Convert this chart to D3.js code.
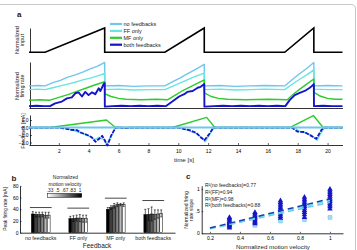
<!DOCTYPE html>
<html>
<head>
<meta charset="utf-8">
<script src="https://cdnjs.cloudflare.com/ajax/libs/d3/7.8.5/d3.min.js"></script>
<style>
body { margin: 0; background: #fff; }
svg { display: block; font-family: "Liberation Sans", Arial, sans-serif; }
</style>
</head>
<body>
<svg width="357" height="250"></svg>
<script>
// ---------- data ----------
// panel a: [time (s), value]
var inputTrace = [[0,0],[1.08,0],[5.07,1],[5.07,0],[9.1,0],[11.74,1],[11.74,0],[17.13,0],[19.08,1],[19.08,0],[21,0]];

var rateNoFb = [[0,0.48],[0.6,0.49],[1.08,0.48],[1.6,0.55],[2.1,0.6],[2.6,0.67],[3.1,0.72],[3.6,0.78],[4.1,0.85],[4.6,0.91],[5.07,0.99],
  [5.08,0.48],[6,0.49],[7,0.47],[8,0.48],[9.1,0.48],[9.6,0.57],[10.1,0.65],[10.6,0.74],[11.1,0.83],[11.74,0.95],
  [11.75,0.48],[12.8,0.49],[13.8,0.47],[14.8,0.48],[15.8,0.49],[17.13,0.48],[17.6,0.61],[18.1,0.74],[18.6,0.86],[19.08,0.99],
  [19.09,0.48],[20,0.49],[21,0.48]];
var rateFF = [[0,0.40],[0.6,0.41],[1.08,0.40],[1.6,0.44],[2.1,0.48],[2.6,0.52],[3.1,0.56],[3.6,0.61],[4.1,0.65],[4.6,0.70],[5.07,0.75],
  [5.08,0.40],[6,0.41],[7,0.39],[8,0.40],[9.1,0.40],[9.6,0.47],[10.1,0.54],[10.6,0.61],[11.1,0.68],[11.74,0.76],
  [11.75,0.40],[12.8,0.41],[13.8,0.39],[14.8,0.40],[15.8,0.41],[17.13,0.40],[17.6,0.51],[18.1,0.62],[18.6,0.72],[19.08,0.83],
  [19.09,0.41],[20,0.40],[21,0.40]];
var rateMF = [[0,0.17],[0.7,0.18],[1.4,0.17],[2.0,0.23],[2.6,0.29],[3.2,0.36],[3.8,0.43],[4.4,0.50],[5.07,0.57],
  [5.08,0.31],[5.5,0.25],[6.0,0.21],[6.5,0.19],[7.5,0.18],[8.5,0.19],[9.3,0.18],[9.8,0.28],[10.3,0.38],[10.8,0.46],[11.3,0.54],[11.74,0.61],
  [11.75,0.33],[12.2,0.25],[12.7,0.21],[13.3,0.19],[14.5,0.18],[16,0.19],[17.3,0.18],[17.7,0.30],[18.1,0.40],[18.6,0.52],[19.08,0.63],
  [19.09,0.34],[19.5,0.26],[20,0.21],[20.5,0.19],[21,0.19]];
var rateBoth = [[0,0.04],[0.5,0.05],[1.0,0.04],[1.41,0.04],[1.75,0.10],[2.2,0.14],[2.54,0.21],[2.87,0.23],[3.1,0.32],[3.32,0.34],[3.55,0.25],
  [3.77,0.35],[3.99,0.28],[4.22,0.34],[4.44,0.30],[4.67,0.43],[4.78,0.37],[5.0,0.52],[5.07,0.54],
  [5.08,0.03],[5.6,0.04],[6.2,0.05],[6.8,0.04],[7.4,0.05],[8.0,0.04],[8.6,0.05],[9.16,0.04],[9.6,0.14],[10.06,0.25],[10.4,0.30],
  [10.6,0.35],[10.96,0.37],[11.3,0.44],[11.5,0.46],[11.74,0.52],
  [11.75,0.03],[12.4,0.04],[13.0,0.05],[13.6,0.04],[14.2,0.05],[14.8,0.04],[15.4,0.05],[16.0,0.04],[16.6,0.05],[17.17,0.04],
  [17.46,0.17],[17.8,0.28],[18.13,0.33],[18.47,0.37],[18.81,0.44],[18.92,0.47],[19.08,0.52],
  [19.09,0.04],[19.7,0.05],[20.3,0.04],[21,0.04]];

var fbNoFb = [[0,0],[21,0]];
var fbFF = [[0,0],[2.3,0],[3.0,-0.4],[3.6,-0.8],[4.0,-1.1],[4.4,-1.6],[4.7,-1.3],[5.0,-1.6],[5.2,-2.3],[5.5,-1.2],[5.8,0],
  [10.2,0],[10.7,-0.4],[11.2,-0.8],[11.6,-1.4],[11.8,-1.9],[12.1,-0.9],[12.4,0],
  [17.8,0],[18.1,-0.5],[18.5,-0.7],[18.9,-1.0],[19.3,-1.7],[19.6,-0.6],[19.8,0],[21,0]];
var fbMF = [[0,0],[1.4,0],[5.19,1.0],[5.79,0],[9.6,0],[11.9,1.35],[12.45,0],[17.46,0],[19.05,1.6],[19.7,0],[21,0]];
var fbBoth = [[0,0],[2.0,0],[2.3,-0.1],[2.8,-0.3],[3.2,-0.35],[3.5,-0.7],[3.9,-1.0],[4.2,-1.3],[4.45,-1.9],[4.7,-1.5],[4.9,-1.1],
  [5.05,-1.6],[5.25,-2.4],[5.5,-1.1],[5.8,0],[6.2,0],[6.35,-0.08],[6.6,-0.05],[6.8,0],
  [10.0,0],[10.4,-0.2],[10.75,-0.35],[11.2,-0.7],[11.5,-1.3],[11.75,-1.7],[12.1,-0.8],[12.35,0],
  [17.6,0],[18.0,-0.55],[18.45,-0.6],[18.8,-1.0],[19.25,-1.5],[19.6,-0.3],[19.8,0],[21,0]];

var timeTicks = [2,4,6,8,10,12,14,16,18,20];
var fbTicks = [-2,-1,0,1];
var legendNames = ["no feedbacks","FF only","MF only","both feedbacks"];

// panel b
var groups = ["no feedbacks","FF only","MF only","both feedbacks"];
var peakNoFb = [32,31,31,31,30,30];
var peakFF = [24,24,25,25,24,24];
var peakMF = [40,43,46,48,48,48];
var peakBoth = [31,31,32,31,32,33];
var errNoFb = [4,4,4,4,5,5];
var errFF = [4,5,5,6,6,6];
var errMF = [3,3,4,3,2,3];
var errBoth = [9,10,12,8,7,6];
var sigLevels = [43,42,59,55];
var barTicks = [0,20,40,60,80];
var velocityLabels = [".33",".5",".67",".83","1"];

// panel c
var velocities = [0.33,0.5,0.67,0.83,1];
var slopeNoFb = [0.2,0.18,0.28,0.31,0.36];
var slopeFF = [0.24,0.36,0.52,0.64,0.74];
var slopeBoth = [
  [0.12,0.15,0.17,0.19,0.21,0.23,0.25,0.27,0.3,0.33,0.36],
  [0.22,0.25,0.28,0.31,0.34,0.37,0.4,0.44,0.47],
  [0.34,0.38,0.42,0.46,0.5,0.54,0.58,0.62,0.66,0.7,0.74],
  [0.36,0.42,0.47,0.52,0.57,0.61,0.65,0.69,0.73,0.77,0.82],
  [0.55,0.6,0.64,0.68,0.72,0.76,0.8,0.84,0.88,0.92,0.96,1.0]];
var fitX = [0.2,1.0];
var fitNoFb = [0.1,0.7];
var fitFF = [0.11,0.74];
var fitBoth = [0.12,0.78];
var r2Labels = ["R\u00b2(no feedbacks)=0.77","R\u00b2(FF)=0.94","R\u00b2(MF)=0.98","R\u00b2(both feedbacks)=0.88"];

// ---------- setup ----------
var svg = d3.select("svg"),
  width = +svg.attr("width"),
  height = +svg.attr("height");

var colNo = "#6fc6ee", colFF = "#66e6de", colMF = "#2ccc2c", colBoth = "#1414c8";
var seriesColors = [colNo, colFF, colMF, colBoth];
var barShades = ["#000000","#3d3d3d","#5e5e5e","#878787","#b9b9b9","#ffffff"];

// frame
svg.append("path")
  .attr("d", "M0,4.5 H351 Q355.5,4.5 355.5,9 V250")
  .attr("fill", "none").attr("stroke", "#c8c8c8").attr("stroke-width", 1);

function styleAxis(g, size) {
  g.attr("font-family", null).attr("font-size", size);
  g.select(".domain").attr("stroke", "#000").attr("stroke-width", 0.8);
  g.selectAll(".tick line").attr("stroke", "#000").attr("stroke-width", 0.6);
}

function label(txt, x, y, size, anchor, rot, weight) {
  svg.append("text")
    .attr("transform", "translate(" + x + "," + y + ")" + (rot ? " rotate(-90)" : ""))
    .attr("text-anchor", anchor || "middle")
    .attr("font-size", size)
    .attr("font-weight", weight || "normal")
    .attr("fill", "#222")
    .text(txt);
}

// ---------- panel a ----------
var x = d3.scaleLinear().domain([0, 21]).range([29, 342.5]);
var yIn = d3.scaleLinear().domain([0, 1]).range([52.3, 28]);
var yRate = d3.scaleLinear().domain([0, 1]).range([108, 62]);
var yFb = d3.scaleLinear().domain([-2.33, 1.67]).range([145, 115]);

function lineFor(ys) {
  return d3.line().x(function (d) { return x(d[0]); }).y(function (d) { return ys(d[1]); });
}

label("a", 17, 16.5, 8, "start", false, "bold");

// input
svg.append("g").attr("transform", "translate(30,0)")
  .call(d3.axisLeft(yIn).tickValues([]).tickSizeOuter(0)).call(styleAxis, 5);
svg.append("path").datum(inputTrace)
  .attr("d", lineFor(yIn)).attr("fill", "none").attr("stroke", "#000").attr("stroke-width", 1.6);
label("Normalized", 18.5, 40, 5.5, "middle", true);
label("input", 23.8, 40, 5.5, "middle", true);

// legend
var leg = svg.append("g");
legendNames.forEach(function (n, i) {
  var yy = 24 + i * 6.9;
  leg.append("line").attr("x1", 110).attr("x2", 122).attr("y1", yy).attr("y2", yy)
    .attr("stroke", seriesColors[i]).attr("stroke-width", 2.2);
  leg.append("text").attr("x", 123.5).attr("y", yy + 1.9).attr("font-size", 5.5).attr("fill", "#222").text(n);
});

// firing rate
svg.append("g").attr("transform", "translate(30,0)")
  .call(d3.axisLeft(yRate).tickValues([]).tickSizeOuter(0)).call(styleAxis, 5);
svg.append("g").attr("transform", "translate(0,108)")
  .call(d3.axisBottom(x).tickValues([]).tickSizeOuter(0)).call(styleAxis, 5);
[rateNoFb, rateFF, rateMF, rateBoth].forEach(function (s, i) {
  svg.append("path").datum(s)
    .attr("d", lineFor(yRate)).attr("fill", "none")
    .attr("stroke", seriesColors[i]).attr("stroke-width", i == 3 ? 1.9 : 1.4)
    .attr("stroke-linejoin", "round");
});
label("Normalized", 18.5, 86, 5.5, "middle", true);
label("firing rate", 24.2, 86, 5.5, "middle", true);

// feedback
svg.append("g").attr("transform", "translate(30,0)")
  .call(d3.axisLeft(yFb).tickValues(fbTicks).tickSize(-2).tickSizeOuter(0).tickPadding(1.5)).call(styleAxis, 5);
svg.append("g").attr("transform", "translate(0,145)")
  .call(d3.axisBottom(x).tickValues(timeTicks).tickSize(-2).tickSizeOuter(0).tickPadding(4)).call(styleAxis, 5);
[fbMF, fbFF, fbBoth, fbNoFb].forEach(function (s, i) {
  var c = [colMF, colFF, colBoth, colNo][i];
  svg.append("path").datum(s)
    .attr("d", lineFor(yFb)).attr("fill", "none")
    .attr("stroke", c).attr("stroke-width", i == 2 ? 1.8 : (i == 3 ? 2 : 1.4))
    .attr("stroke-dasharray", i == 2 ? "4,1.2" : null)
    .attr("stroke-linejoin", "round");
});
label("Feedback [mA]", 24.5, 131, 5.3, "middle", true);
label("time [s]", 184, 161.5, 6.2);

// ---------- panel b ----------
label("b", 11.5, 181, 8, "start", false, "bold");
var xb = d3.scaleBand().domain(groups).range([22, 172]).paddingInner(0.5).paddingOuter(0.25);
var xbi = d3.scaleBand().domain(d3.range(6)).range([0, xb.bandwidth()]).paddingInner(0.1);
var yb = d3.scaleLinear().domain([0, 80]).range([232.7, 185.9]);
var peaks = [peakNoFb, peakFF, peakMF, peakBoth];
var errs = [errNoFb, errFF, errMF, errBoth];

svg.append("g").attr("transform", "translate(20,0)")
  .call(d3.axisLeft(yb).tickValues(barTicks).tickSize(-1.5).tickSizeOuter(0).tickPadding(1.5)).call(styleAxis, 5);
svg.append("g").attr("transform", "translate(0,232.7)")
  .call(d3.axisBottom(d3.scaleLinear().domain([0, 1]).range([20, 175])).tickValues([]).tickSizeOuter(0)).call(styleAxis, 5);

groups.forEach(function (gname, gi) {
  var g = svg.append("g").attr("transform", "translate(" + xb(gname) + ",0)");
  g.selectAll("rect").data(peaks[gi]).enter().append("rect")
    .attr("x", function (d, i) { return xbi(i); })
    .attr("width", xbi.bandwidth())
    .attr("y", function (d) { return yb(d); })
    .attr("height", function (d) { return yb(0) - yb(d); })
    .attr("fill", function (d, i) { return barShades[i]; })
    .attr("stroke", "#000").attr("stroke-width", 0.5);
  g.selectAll("path.err").data(peaks[gi]).enter().append("path")
    .attr("d", function (d, i) {
      var cx = xbi(i) + xbi.bandwidth() / 2, e = errs[gi][i];
      return "M" + cx + "," + yb(d - e) + "V" + yb(d + e) +
        "M" + (cx - 1) + "," + yb(d + e) + "H" + (cx + 1) +
        "M" + (cx - 1) + "," + yb(d - e) + "H" + (cx + 1);
    })
    .attr("stroke", "#000").attr("stroke-width", 0.6).attr("fill", "none");
  g.append("line")
    .attr("x1", -1.5).attr("x2", xb.bandwidth() + 1.5)
    .attr("y1", yb(sigLevels[gi])).attr("y2", yb(sigLevels[gi]))
    .attr("stroke", "#333").attr("stroke-width", 0.9);
  label(gname, xb(gname) + xb.bandwidth() / 2, 239.5, 5.3);
});
label("Feedback", 97, 247.5, 6.5);
label("Peak firing rate [mA]", 6.5, 209, 4.8, "middle", true);

// velocity legend
label("Normalized", 65.5, 178.5, 5);
label("motion velocity", 65, 185.5, 5);
var grad = svg.append("defs").append("linearGradient").attr("id", "velGrad");
grad.append("stop").attr("offset", "0%").attr("stop-color", "#fff");
grad.append("stop").attr("offset", "100%").attr("stop-color", "#000");
var xv = d3.scalePoint().domain(velocityLabels).range([50, 80]);
velocityLabels.forEach(function (v) {
  label(v, xv(v), 192.3, 4.8);
});
svg.append("rect").attr("x", 47.7).attr("y", 193.5).attr("width", 34).attr("height", 3.8)
  .attr("fill", "url(#velGrad)").attr("stroke", "#000").attr("stroke-width", 0.5);

// ---------- panel c ----------
label("c", 186, 179, 8, "start", false, "bold");
var xc = d3.scaleLinear().domain([0.145, 1.087]).range([201.7, 343]);
var yc = d3.scaleLinear().domain([0, 1.077]).range([233.3, 185.7]);

svg.append("g").attr("transform", "translate(201.7,0)")
  .call(d3.axisLeft(yc).tickValues([0, 0.5, 1]).tickFormat(function (d) { return d == 0.5 ? ".5" : d; })
    .tickSize(-1.5).tickSizeOuter(0).tickPadding(2)).call(styleAxis, 5);
svg.append("g").attr("transform", "translate(0,233.3)")
  .call(d3.axisBottom(xc).tickValues([0.2, 0.4, 0.6, 0.8, 1]).tickFormat(function (d) { return d == 1 ? "1" : d.toFixed(1); })
    .tickSize(-1.5).tickSizeOuter(0).tickPadding(3)).call(styleAxis, 5);

var sq = d3.symbol().type(d3.symbolSquare).size(15);
var tri = d3.symbol().type(d3.symbolTriangle).size(13);

svg.append("g").selectAll("path").data(velocities).enter().append("path")
  .attr("d", sq).attr("transform", function (d, i) { return "translate(" + xc(d) + "," + yc(slopeFF[i]) + ")"; })
  .attr("fill", "#9ee8f0").attr("stroke", colFF).attr("stroke-width", 0.6);
svg.append("g").selectAll("path").data(velocities).enter().append("path")
  .attr("d", sq).attr("transform", function (d, i) { return "translate(" + xc(d) + "," + yc(slopeNoFb[i]) + ")"; })
  .attr("fill", "#a6dcf5").attr("stroke", colNo).attr("stroke-width", 0.6);

velocities.forEach(function (v, i) {
  svg.append("g").selectAll("path").data(slopeBoth[i]).enter().append("path")
    .attr("d", tri).attr("transform", function (d) { return "translate(" + xc(v) + "," + yc(d) + ")"; })
    .attr("fill", colBoth);
});

[[fitNoFb, colNo], [fitFF, colFF], [fitBoth, "#1a3cb0"]].forEach(function (f) {
  svg.append("line")
    .attr("x1", xc(fitX[0])).attr("x2", xc(fitX[1]))
    .attr("y1", yc(f[0][0])).attr("y2", yc(f[0][1]))
    .attr("stroke", f[1]).attr("stroke-width", 1.5).attr("stroke-dasharray", "6,4");
});

r2Labels.forEach(function (t, i) {
  label(t, 205, 187 + i * 6.8, 5, "start");
});
label("Normalized firing", 187.5, 210, 5, "middle", true);
label("rate slope", 192.8, 210, 5, "middle", true);
label("Normalized motion velocity", 273, 249, 6.2);
</script>
</body>
</html>
